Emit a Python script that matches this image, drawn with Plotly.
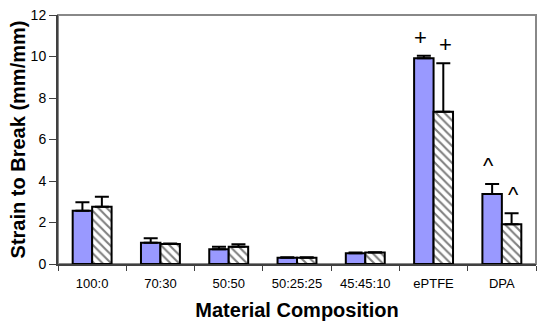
import plotly.graph_objects as go

categories = ["100:0", "70:30", "50:50", "50:25:25", "45:45:10", "ePTFE", "DPA"]
series_a = [2.57, 1.03, 0.71, 0.30, 0.52, 9.91, 3.37]
series_a_err = [0.40, 0.21, 0.12, 0.03, 0.03, 0.13, 0.49]
series_b = [2.76, 0.96, 0.83, 0.30, 0.55, 7.34, 1.91]
series_b_err = [0.48, 0.03, 0.12, 0.03, 0.02, 2.33, 0.53]
marks_a = {"ePTFE": "+", "DPA": "^"}
marks_b = {"ePTFE": "+", "DPA": "^"}

FONT = "Liberation Sans, Arial, sans-serif"

fig = go.Figure()
fig.add_trace(go.Bar(
    x=categories, y=series_a, name="A",
    marker=dict(color="#9999FF", line=dict(color="black", width=2)),
    error_y=dict(type="data", symmetric=False, array=series_a_err,
                 arrayminus=[0] * len(series_a), color="black", thickness=2, width=7),
))
fig.add_trace(go.Bar(
    x=categories, y=series_b, name="B",
    marker=dict(color="white", line=dict(color="black", width=2),
                pattern=dict(shape="\\", fgcolor="black", bgcolor="white",
                             size=6, solidity=0.35)),
    error_y=dict(type="data", symmetric=False, array=series_b_err,
                 arrayminus=[0] * len(series_b), color="black", thickness=2, width=7),
))

annotations = []
for cat, sym in marks_a.items():
    i = categories.index(cat)
    annotations.append(dict(x=cat, y=series_a[i] + series_a_err[i], xref="x", yref="y",
                            text=sym, showarrow=False, xshift=-13, yshift=4,
                            yanchor="bottom",
                            font=dict(family=FONT, size=22, color="black")))
for cat, sym in marks_b.items():
    i = categories.index(cat)
    annotations.append(dict(x=cat, y=series_b[i] + series_b_err[i], xref="x", yref="y",
                            text=sym, showarrow=False, xshift=12, yshift=4,
                            yanchor="bottom",
                            font=dict(family=FONT, size=22, color="black")))

fig.update_layout(
    width=537, height=322,
    margin=dict(l=58, r=1, t=15, b=58),
    paper_bgcolor="white", plot_bgcolor="white",
    barmode="group", bargap=0.43, bargroupgap=0,
    showlegend=False,
    font=dict(family=FONT, size=12, color="black"),
    annotations=annotations,
    shapes=[dict(type="rect", xref="paper", yref="paper", x0=0, x1=1, y0=0, y1=1,
                 line=dict(color="#888888", width=2), layer="below")],
    xaxis=dict(
        title=dict(text="<b>Material Composition</b>", font=dict(size=20), standoff=13),
        showline=True, linecolor="#404040", linewidth=2,
        ticks="outside", tickson="boundaries", ticklen=5, tickcolor="#404040",
        ticklabelstandoff=6,
        tickfont=dict(size=13), showgrid=False,
    ),
    yaxis=dict(
        title=dict(text="<b>Strain to Break (mm/mm)</b>", font=dict(size=20), standoff=0),
        range=[0, 12], dtick=2,
        showline=True, linecolor="#404040", linewidth=2,
        ticks="outside", ticklen=7, tickcolor="#404040",
        tickfont=dict(size=14), showgrid=False, zeroline=False,
    ),
)

fig.write_html("out.html")
